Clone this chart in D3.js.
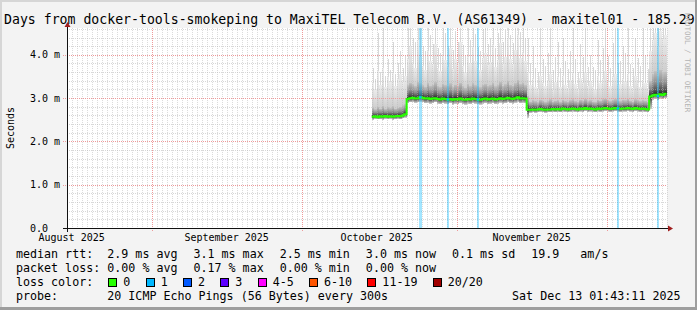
<!DOCTYPE html>
<html><head><meta charset="utf-8">
<script src="https://cdn.jsdelivr.net/npm/d3@7"></script>
<style>
html,body{margin:0;padding:0;background:#f3f3f3;}
svg{display:block;}
text{font-family:"DejaVu Sans Mono",monospace;fill:#000;white-space:pre;}
</style></head><body>
<svg id="chart" width="697" height="310"></svg>
<script>
// ---------- text ----------
const titleText = "Days from docker-tools-smokeping to MaxiTEL Telecom B.V. (AS61349) - maxitel01 - 185.29";
const yAxisTitle = "Seconds";
const watermark = "RRDTOOL / TOBI OETIKER";
// ---------- axes ----------
const rangeEnd = "2025-12-13T01:43:11Z";
const rangeDays = 120;
const yMax = 4.62;
const yTicks = [0, 1, 2, 3, 4];
const yTickLabels = ["0.0", "1.0 m", "2.0 m", "3.0 m", "4.0 m"];
const monthLabels = ["August 2025", "September 2025", "October 2025", "November 2025"];
// ---------- data (ms), one sample every 12 h from dataStart ----------
const dataStart = "2025-10-15T00:00:00Z";
const stepHours = 12;
const rttMedian = [
  2.57,2.58,2.56,2.58,2.57,2.59,2.57,2.58,2.57,2.58,2.59,2.58,2.60,2.63,
  2.98,3.00,3.01,2.99,3.00,3.02,3.01,2.99,3.00,2.98,2.99,3.00,
  2.98,2.97,2.99,2.98,2.97,2.98,2.96,2.98,2.97,2.99,2.97,2.96,
  2.98,2.97,2.99,2.98,2.97,2.96,2.98,2.99,2.97,2.98,2.99,2.97,
  2.98,3.00,2.98,2.99,3.01,2.99,2.98,3.00,3.02,2.99,3.00,2.99,
  2.73,
  2.73,2.74,2.73,2.74,2.75,2.74,2.73,2.74,2.74,2.75,2.74,2.75,
  2.74,2.76,2.75,2.74,2.75,2.76,2.75,2.74,2.76,2.75,2.77,2.75,
  2.76,2.75,2.74,2.76,2.75,2.76,2.77,2.76,2.75,2.76,2.77,2.76,
  2.75,2.76,2.76,2.77,2.76,2.75,2.77,2.76,2.75,2.76,2.75,2.74,
  3.04,3.06,3.08,3.05,3.09,3.07,3.10
];
const rttMin = [
  2.50,2.52,2.51,2.51,2.50,2.52,2.51,2.52,2.50,2.51,2.52,2.51,2.53,2.55,
  2.88,2.90,2.91,2.89,2.90,2.92,2.90,2.88,2.89,2.87,2.88,2.90,
  2.87,2.86,2.88,2.87,2.86,2.88,2.85,2.87,2.86,2.88,2.86,2.85,
  2.87,2.86,2.88,2.87,2.86,2.85,2.87,2.88,2.86,2.87,2.88,2.86,
  2.87,2.89,2.87,2.88,2.90,2.88,2.87,2.89,2.91,2.88,2.89,2.88,
  2.55,
  2.66,2.67,2.66,2.67,2.68,2.67,2.66,2.67,2.67,2.68,2.67,2.68,
  2.67,2.69,2.68,2.67,2.68,2.69,2.68,2.67,2.69,2.68,2.70,2.68,
  2.69,2.68,2.67,2.69,2.68,2.69,2.70,2.69,2.68,2.69,2.70,2.69,
  2.68,2.69,2.69,2.70,2.69,2.68,2.70,2.69,2.68,2.69,2.68,2.67,
  2.75,2.96,2.98,2.95,2.99,2.97,3.00
];
const rttP80 = [
  2.78,2.74,2.80,2.76,2.82,2.75,2.79,2.77,2.81,2.76,2.78,2.80,2.83,2.86,
  3.30,3.36,3.32,3.28,3.38,3.34,3.30,3.26,3.35,3.29,3.31,3.37,
  3.27,3.25,3.33,3.30,3.28,3.34,3.26,3.31,3.29,3.36,3.27,3.24,
  3.32,3.28,3.35,3.30,3.27,3.25,3.31,3.33,3.28,3.30,3.36,3.27,
  3.30,3.38,3.29,3.32,3.40,3.31,3.29,3.35,3.42,3.33,3.36,3.30,
  3.05,
  2.92,2.95,2.93,2.90,2.96,2.94,2.91,2.93,2.97,2.92,2.94,2.95,
  2.91,2.96,2.93,2.92,2.95,2.97,2.93,2.91,2.96,2.94,2.98,2.93,
  2.95,2.92,2.91,2.96,2.94,2.97,2.99,2.95,2.93,2.96,2.98,2.94,
  2.93,2.96,2.95,2.98,2.94,2.92,2.97,2.95,2.93,2.95,2.94,2.92,
  3.40,3.55,3.62,3.50,3.66,3.58,3.60
];
const rttP95 = [
  3.35,3.20,3.62,3.30,3.70,3.25,3.48,3.38,3.60,3.28,3.45,3.55,3.40,3.50,
  3.90,4.20,3.80,3.70,4.35,3.95,3.75,3.65,4.10,3.85,3.78,4.25,
  3.70,3.62,4.00,3.88,3.72,4.15,3.68,3.90,3.80,4.30,3.74,3.60,
  3.95,3.82,4.18,3.86,3.70,3.64,3.92,4.05,3.76,3.84,4.22,3.72,
  3.88,4.28,3.80,3.96,4.40,3.90,3.78,4.12,4.45,3.92,4.05,3.85,
  3.60,
  3.30,3.45,3.25,3.20,3.50,3.35,3.28,3.40,3.55,3.22,3.38,3.48,
  3.25,3.52,3.30,3.24,3.42,3.58,3.32,3.20,3.46,3.36,3.60,3.28,
  3.40,3.26,3.22,3.50,3.34,3.44,3.62,3.38,3.27,3.48,3.55,3.30,
  3.32,3.45,3.40,3.56,3.28,3.24,3.50,3.36,3.26,3.42,3.34,3.22,
  4.10,4.35,4.50,4.20,4.55,4.40,4.45
];
const rttMax = [
  3.70,3.45,4.50,3.60,4.62,3.50,3.90,3.65,4.30,3.55,3.80,4.10,3.70,4.00,
  4.62,4.62,4.40,4.30,4.62,4.62,4.20,4.10,4.62,4.45,4.25,4.62,
  4.15,4.05,4.62,4.50,4.20,4.62,4.12,4.55,4.30,4.62,4.22,4.00,
  4.62,4.35,4.62,4.48,4.18,4.08,4.60,4.62,4.25,4.40,4.62,4.15,
  4.50,4.62,4.30,4.58,4.62,4.45,4.28,4.62,4.62,4.52,4.62,4.40,
  4.40,
  3.80,4.20,3.70,3.60,4.62,3.90,3.75,4.05,4.62,3.65,3.95,4.30,
  3.70,4.40,3.85,3.68,4.10,4.62,3.90,3.60,4.25,3.95,4.62,3.72,
  4.00,3.72,3.66,4.35,3.88,4.15,4.62,3.98,3.70,4.28,4.62,3.80,
  3.85,4.20,4.05,4.62,3.78,3.70,4.40,3.92,3.74,4.62,4.00,3.68,
  4.62,4.62,4.62,4.62,4.62,4.62,4.62
];
// samples with packet loss (lost pings out of 20)
const lossDates = ["2025-10-24T12:00:00Z","2025-10-30T00:00:00Z","2025-11-05T00:00:00Z","2025-12-03T00:00:00Z","2025-12-11T00:00:00Z"];
const lossCounts = [1, 1, 1, 1, 1];
// ---------- legend ----------
const lossLabels = ["0","1","2","3","4-5","6-10","11-19","20/20"];
const lossColors = ["#26ff00","#00b8ff","#0059ff","#5e00ff","#ff00ff","#ff5500","#ff0000","#a10000"];
const lossThresholds = [0,1,2,3,5,10,19,20];
const rttStats = ["2.9 ms avg","3.1 ms max","2.5 ms min","3.0 ms now","0.1 ms sd","19.9   am/s"];
const lossStats = ["0.00 % avg","0.17 % max","0.00 % min","0.00 % now"];
const probeText = "20 ICMP Echo Pings (56 Bytes) every 300s";
const stampText = "Sat Dec 13 01:43:11 2025";

// ================= drawing =================
const W = 697, H = 310;
const L = 67, R = 667, T = 28, B = 228;
const svg = d3.select("#chart");
const end = new Date(rangeEnd);
const start = d3.utcDay.offset(end, -rangeDays);
const x = d3.scaleUtc().domain([start, end]).range([L, R]);
const y = d3.scaleLinear().domain([0, yMax]).range([B, T]);
const px = v => Math.round(v) + 0.5;

// background + frame
svg.append("rect").attr("width", W).attr("height", H).attr("fill", "#f3f3f3");
svg.append("rect").attr("x", L).attr("y", T).attr("width", R - L).attr("height", B - T).attr("fill", "#fff");
const frame = svg.append("g").attr("shape-rendering", "crispEdges");
frame.append("rect").attr("x", 0).attr("y", 0).attr("width", W).attr("height", 2).attr("fill", "#d6d6d6");
frame.append("rect").attr("x", 0).attr("y", 0).attr("width", 2).attr("height", H).attr("fill", "#d6d6d6");
frame.append("rect").attr("x", W - 2).attr("y", 0).attr("width", 2).attr("height", H).attr("fill", "#9e9e9e");
frame.append("rect").attr("x", 0).attr("y", H - 3).attr("width", W).attr("height", 3).attr("fill", "#9e9e9e");

// gradients for smoke
const defs = svg.append("defs");
function grad(id, stops) {
  const g = defs.append("linearGradient").attr("id", id)
    .attr("x1", 0).attr("y1", 1).attr("x2", 0).attr("y2", 0);
  stops.forEach(([o, c]) => g.append("stop").attr("offset", o).attr("stop-color", c));
}
grad("gUp", [[0, "#1e1e1e"], [0.15, "#4a4a4a"], [0.5, "#8e8e8e"], [1, "#c2c2c2"]]);
grad("gLight", [[0, "#cdcdcd"], [1, "#ececec"]]);
grad("gLow", [[0, "#cfcfcf"], [0.6, "#777"], [1, "#2a2a2a"]]);

// samples
const t0 = new Date(dataStart);
const samples = rttMedian.map((m, i) => ({
  t: d3.utcHour.offset(t0, i * stepHours),
  t1: d3.utcHour.offset(t0, (i + 1) * stepHours),
  med: m, lo: rttMin[i], p80: rttP80[i], p95: rttP95[i], hi: Math.min(rttMax[i], yMax)
}));

// smoke
const smoke = svg.append("g").attr("shape-rendering", "crispEdges");
samples.forEach(s => {
  const x0 = x(s.t), x1 = x(s.t1);
  smoke.append("rect").attr("x", Math.round(x0) + 1).attr("width", 1)
    .attr("y", y(s.hi)).attr("height", y(s.p95) - y(s.hi)).attr("fill", "#d8d8d8");
  smoke.append("rect").attr("x", x0).attr("width", x1 - x0)
    .attr("y", y(s.p95)).attr("height", y(s.p80) - y(s.p95)).attr("fill", "url(#gLight)");
  smoke.append("rect").attr("x", x0).attr("width", x1 - x0)
    .attr("y", y(s.p80)).attr("height", y(s.med) - y(s.p80)).attr("fill", "url(#gUp)");
  smoke.append("rect").attr("x", x0).attr("width", x1 - x0)
    .attr("y", y(s.med)).attr("height", y(s.lo) - y(s.med)).attr("fill", "url(#gLow)");
});

// grid
const grid = svg.append("g").attr("shape-rendering", "crispEdges").attr("stroke-dasharray", "1,1").attr("fill", "none");
const months = d3.utcMonth.range(d3.utcMonth.ceil(start), end);
const monthSet = new Set(months.map(d => +d));
d3.utcDay.range(d3.utcDay.ceil(start), end).filter(d => !monthSet.has(+d)).forEach(d => {
  grid.append("line").attr("x1", px(x(d))).attr("x2", px(x(d))).attr("y1", T).attr("y2", B)
    .attr("stroke", "#b8b8b8").attr("stroke-opacity", 0.5);
});
d3.range(0.2, yMax, 0.2).filter(v => Math.abs(v - Math.round(v)) > 0.01).forEach(v => {
  grid.append("line").attr("x1", L).attr("x2", R).attr("y1", px(y(v))).attr("y2", px(y(v)))
    .attr("stroke", "#b8b8b8").attr("stroke-opacity", 0.55);
});
months.forEach(d => {
  grid.append("line").attr("x1", px(x(d))).attr("x2", px(x(d))).attr("y1", T).attr("y2", B + 3)
    .attr("stroke", "#ee9a9a");
});
yTicks.filter(v => v > 0).forEach(v => {
  grid.append("line").attr("x1", L - 4).attr("x2", R).attr("y1", px(y(v))).attr("y2", px(y(v)))
    .attr("stroke", "#ee9a9a");
});

// loss bars
const lossColor = n => lossColors[lossThresholds.findIndex(th => n <= th)];
const lossG = svg.append("g").attr("shape-rendering", "crispEdges");
lossDates.forEach((ds, k) => {
  const d = new Date(ds);
  lossG.append("rect").attr("x", x(d)).attr("width", x(d3.utcHour.offset(d, stepHours)) - x(d))
    .attr("y", T).attr("height", B - T).attr("fill", lossColor(lossCounts[k])).attr("fill-opacity", 0.36);
});

// median line
const pts = samples.map(s => [s.t, s.med]);
pts.push([samples[samples.length - 1].t1, samples[samples.length - 1].med]);
svg.append("path").attr("d", d3.line().x(d => x(d[0])).y(d => y(d[1])).curve(d3.curveStepAfter)(pts))
  .attr("fill", "none").attr("stroke", lossColors[0]).attr("stroke-width", 2);
lossDates.forEach((ds, k) => {
  const d = new Date(ds);
  const s = samples.find(q => +q.t === +d);
  if (!s) return;
  svg.append("line").attr("x1", x(s.t)).attr("x2", x(s.t1)).attr("y1", y(s.med)).attr("y2", y(s.med))
    .attr("stroke", lossColor(lossCounts[k])).attr("stroke-width", 2);
});

// axes
const ax = svg.append("g").attr("shape-rendering", "crispEdges");
ax.append("line").attr("x1", L - 4).attr("x2", R + 2).attr("y1", B + 0.5).attr("y2", B + 0.5).attr("stroke", "#111");
ax.append("line").attr("x1", L + 0.5).attr("x2", L + 0.5).attr("y1", B + 4).attr("y2", T - 2).attr("stroke", "#111");
svg.append("path").attr("d", `M${R + 1},${B - 2.5}L${R + 6},${B + 0.5}L${R + 1},${B + 3.5}Z`).attr("fill", "#a01e1e");
svg.append("path").attr("d", `M${L - 2.5},${T - 1}L${L + 0.5},${T - 6}L${L + 3.5},${T - 1}Z`).attr("fill", "#a01e1e");

// y tick labels
yTicks.forEach((v, i) => {
  svg.append("text").attr("x", 30).attr("y", y(v) + 3.6).attr("font-size", 10).text(yTickLabels[i]);
});
// x month labels, centred half a month after the month start
const labelMonths = d3.utcMonth.range(d3.utcMonth.floor(start), end);
labelMonths.forEach((d, i) => {
  const c = x(d3.utcDay.offset(d, 15));
  if (c < L || c > R || !monthLabels[i]) return;
  svg.append("text").attr("x", c).attr("y", 241).attr("font-size", 10).attr("text-anchor", "middle").text(monthLabels[i]);
});

// titles
svg.append("text").attr("x", 4).attr("y", 24.3).attr("font-size", 13.2).text(titleText);
svg.append("text").attr("transform", "translate(14,128) rotate(-90)").attr("text-anchor", "middle")
  .attr("font-size", 10).text(yAxisTitle);
svg.append("text").attr("transform", "translate(685,13) rotate(90)").attr("font-size", 7.5)
  .style("fill", "#b4b4b4").text(watermark);

// legend
const LF = 11.67, gap = 16, col0 = 16, col1 = 107.3;
const rows = [258.3, 272.3, 286.3, 300.2];
function statRow(label, items, yy) {
  svg.append("text").attr("x", col0).attr("y", yy).attr("font-size", LF).text(label);
  let cx = col1;
  items.forEach(s => {
    const t = svg.append("text").attr("x", cx).attr("y", yy).attr("font-size", LF).text(s);
    cx += t.node().getComputedTextLength() + gap;
  });
}
statRow("median rtt:", rttStats, rows[0]);
statRow("packet loss:", lossStats, rows[1]);
svg.append("text").attr("x", col0).attr("y", rows[2]).attr("font-size", LF).text("loss color:");
let bx = 108.3;
lossLabels.forEach((lab, i) => {
  svg.append("rect").attr("x", Math.round(bx) + 0.5).attr("y", rows[2] - 7.8).attr("width", 8).attr("height", 8)
    .attr("fill", lossColors[i]).attr("stroke", "#000").attr("shape-rendering", "crispEdges");
  const t = svg.append("text").attr("x", bx + 15).attr("y", rows[2]).attr("font-size", LF).text(lab);
  bx += 15 + t.node().getComputedTextLength() + 15.3;
});
svg.append("text").attr("x", col0).attr("y", rows[3]).attr("font-size", LF).text("probe:");
svg.append("text").attr("x", col1).attr("y", rows[3]).attr("font-size", LF).text(probeText);
svg.append("text").attr("x", 680.5).attr("y", rows[3]).attr("font-size", LF).attr("text-anchor", "end").text(stampText);
</script></body></html>
